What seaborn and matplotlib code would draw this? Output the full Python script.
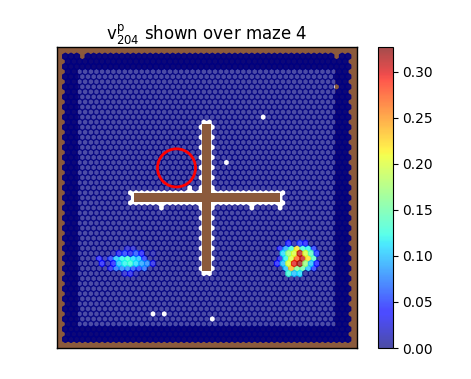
import numpy as np
import matplotlib
matplotlib.use("Agg")
import matplotlib.pyplot as plt
from matplotlib.patches import Rectangle, Circle
import seaborn as sns

# Axes coordinates are 0..300 (pixels from the top-left of the maze frame)
title = r"$\mathrm{v^{p}_{204}}$ shown over maze 4"
cbar_ticks = [0.00, 0.05, 0.10, 0.15, 0.20, 0.25, 0.30]
vmax_value = 0.327

# walls: x0, y0, width, height
wall_x = [0, 0, 0, 278, 145, 76.5]
wall_y = [0, 0, 279, 0, 77, 146]
wall_w = [300, 21, 300, 22, 9, 146]
wall_h = [22, 300, 21, 300, 146, 8]
inner_wall_idx = [4, 5]

# reward circle
goal_x, goal_y, goal_r = 119.5, 120.5, 19

# cells without activity that are not next to a wall
missing_x = [206, 169, 96, 107, 155, 133, 104, 194, 223, 25, 279, 278]
missing_y = [70, 115, 266, 266, 271, 140, 160, 160, 160, 9.5, 40, 9.5]

# activity fields: row position, first column position, values
field_rows = [196, 201, 206, 211, 216, 221, 226,
              201, 206, 211, 216, 221, 226]
field_starts = [231, 224, 225, 222, 220, 228, 231,
                68, 56, 43, 46, 54, 68]
field_values = [
    [0.04, 0.01, 0.05, 0.04],
    [0.04, 0.09, 0.13, 0.22, 0.13, 0.12, 0.05],
    [0.11, 0.17, 0.20, 0.31, 0.20, 0.14, 0.05],
    [0.03, 0.12, 0.20, 0.27, 0.31, 0.22, 0.14],
    [0.04, 0.10, 0.20, 0.30, 0.32, 0.17, 0.10, 0.04],
    [0.10, 0.24, 0.16, 0.15, 0.10, 0.05],
    [0.13, 0.10, 0.11],
    [0.02, 0.02],
    [0.01, 0.03, 0.05, 0.03, 0.06, 0.04, 0.00, 0.01],
    [0.04, 0.01, 0.05, 0.10, 0.12, 0.13, 0.11, 0.10, 0.05],
    [0.04, 0.01, 0.04, 0.10, 0.12, 0.13, 0.11, 0.09, 0.08, 0.03],
    [0.03, 0.07, 0.08, 0.08, 0.06, 0.05, 0.07],
    [0.02, 0.03, 0.01],
]

sns.set_style("white", {"axes.edgecolor": "black", "text.color": "black",
                        "xtick.color": "black", "ytick.color": "black",
                        "font.family": ["DejaVu Sans"]})
plt.rcParams["ytick.major.size"] = 3.5
plt.rcParams["ytick.major.width"] = 0.8
jet = plt.get_cmap("jet")

fig = plt.figure(figsize=(4.71, 3.79), dpi=100)
ax = fig.add_axes([57 / 471, 1 - 348 / 379, 300 / 471, 301 / 379])
cax = fig.add_axes([378 / 471, 1 - 348 / 379, 14.5 / 471, 301 / 379])

BROWN = "#8b5a3c"
ax.set_facecolor("white")
for x0, y0, w, h in zip(wall_x, wall_y, wall_w, wall_h):
    ax.add_patch(Rectangle((x0, y0), w, h, fc=BROWN, ec="none", zorder=1))

# hex lattice
X0, Y0, SX, SY = 8.4, 9.5, 5.65, 10.06
NX, NY = 50, 28
xa, ya = np.meshgrid(X0 + SX * np.arange(NX + 1), Y0 + SY * np.arange(NY + 1))
xb, yb = np.meshgrid(X0 + SX * (np.arange(NX) + .5), Y0 + SY * (np.arange(NY) + .5))
sx = np.r_[xa.ravel(), xb.ravel()]
sy = np.r_[ya.ravel(), yb.ravel()]
sv = np.zeros_like(sx)

keep = np.ones_like(sx, dtype=bool)
for i in inner_wall_idx:
    m = 3.5
    keep &= ~((sx > wall_x[i] - m) & (sx < wall_x[i] + wall_w[i] + m) &
              (sy > wall_y[i] - m) & (sy < wall_y[i] + wall_h[i] + m))
for mx, my in zip(missing_x, missing_y):
    keep[np.argmin((sx - mx) ** 2 + (sy - my) ** 2)] = False

rows = np.unique(np.round(sy, 6))
for ry, x_start, vals in zip(field_rows, field_starts, field_values):
    row = rows[np.argmin(np.abs(rows - ry))]
    idx = np.where(np.abs(sy - row) < 1e-3)[0]
    cols = idx[np.argsort(sx[idx])]
    first = np.argmin(np.abs(sx[cols] - x_start))
    for k, v in enumerate(vals):
        sv[cols[first + k]] = v

extent = (X0, X0 + SX * NX, Y0, Y0 + SY * NY)
gs = (NX, NY)
hb = ax.hexbin(sx[keep], sy[keep], C=sv[keep], gridsize=gs, extent=extent,
               cmap=jet, vmin=0, vmax=vmax_value, alpha=0.7,
               linewidths=0.8, edgecolors="face", zorder=2,
               reduce_C_function=np.max)
band = keep & ((sx < 21) | (sx > 278) | (sy < 22) | (sy > 279))
ax.hexbin(sx[band], sy[band], C=sv[band], gridsize=gs, extent=extent,
          cmap=jet, vmin=0, vmax=vmax_value, alpha=0.7,
          linewidths=0.8, edgecolors="face", zorder=3,
          reduce_C_function=np.max)

ax.add_patch(Circle((goal_x, goal_y), goal_r, fc="none", ec="red", lw=2, zorder=5))
ax.set_xlim(0, 300)
ax.set_ylim(300, 0)
ax.set_xticks([])
ax.set_yticks([])
ax.set_title(title, fontsize=12, pad=5)
for s in ax.spines.values():
    s.set_linewidth(1.0)
    s.set_zorder(6)

cb = fig.colorbar(hb, cax=cax, ticks=cbar_ticks)
cb.ax.set_yticklabels([f"{t:.2f}" for t in cbar_ticks], fontsize=10)
cb.ax.tick_params(left=False, right=True, length=3.5, width=0.8)

fig.savefig("out.png", dpi=100)
